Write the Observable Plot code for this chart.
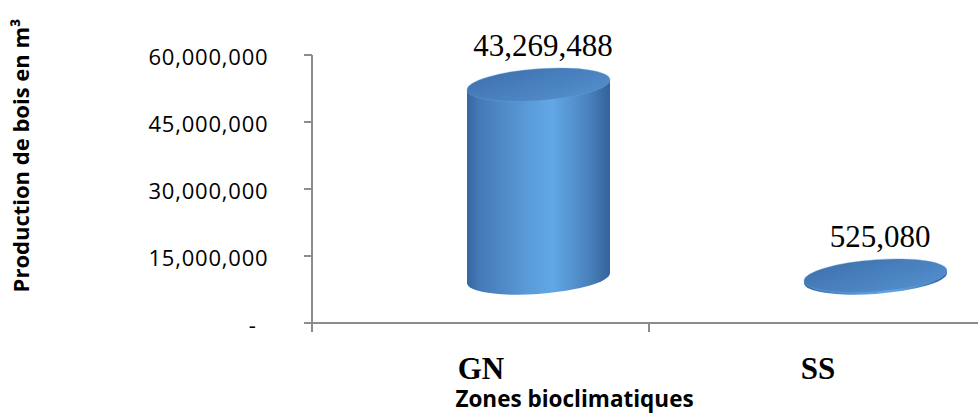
<!DOCTYPE html>
<html>
<head>
<meta charset="utf-8">
<script src="https://cdn.jsdelivr.net/npm/d3@7"></script>
<script src="https://cdn.jsdelivr.net/npm/@observablehq/plot@0.6"></script>
<style>
  html, body { margin: 0; padding: 0; background: #fff; overflow: hidden; }
  #chart svg { display: block; }
  #chart g[aria-label="y-axis tick label"] { letter-spacing: 0.8px; }
</style>
</head>
<body>
<div id="chart"></div>
<script>
// Wood production by bioclimatic zone (m³)
const zones = ["GN", "SS"];
const production = [43269488, 525080];
const yTicks = [0, 15000000, 30000000, 45000000, 60000000];
const yTitle = "Production de bois en m³";
const xTitle = "Zones bioclimatiques";

const rows = zones.map((zone, i) => ({zone, value: production[i]}));

const fmt = d3.format(",");
// accounting style: zero shown as a dash
const tickLabel = d => d === 0 ? "-\u2002" : fmt(d);

// 3D look: cylinders sit on a floor set back from the front axes
const depthX = 58, depthY = -45;
const rx = 71.5, ry = 16, skew = -4;
const axisColor = "#8c8c8c";

function bandwidthOf(x) {
  if (typeof x.bandwidth === "function") return x.bandwidth();
  if (typeof x.bandwidth === "number") return x.bandwidth;
  return 0;
}

// front axes: vertical value axis, horizontal category axis with band separators
function axes(index, {x, y}) {
  const g = d3.create("svg:g")
    .attr("stroke", axisColor)
    .attr("stroke-width", 2)
    .attr("fill", "none");
  const x0 = x(zones[0]);
  const y0 = y(0);
  g.append("line").attr("x1", x0).attr("x2", x0)
    .attr("y1", y(d3.max(yTicks))).attr("y2", y0 + 9);
  g.selectAll(".ytick").data(yTicks).join("line")
    .attr("x1", x0 - 8).attr("x2", x0)
    .attr("y1", d => y(d)).attr("y2", d => y(d));
  g.append("line").attr("x1", x0 - 8).attr("x2", 1200)
    .attr("y1", y0).attr("y2", y0);
  g.selectAll(".xtick").data(zones).join("line")
    .attr("x1", d => x(d)).attr("x2", d => x(d))
    .attr("y1", y0).attr("y2", y0 + 9);
  return g.node();
}

// cylinders drawn from the data through the x and y scales
function cylinders(index, {x, y}) {
  const g = d3.create("svg:g");
  const defs = g.append("defs");
  const body = defs.append("linearGradient").attr("id", "cyl-body")
    .attr("x1", 0).attr("x2", 1).attr("y1", 0).attr("y2", 0);
  [[0, "#35679f"], [0.08, "#4479b6"], [0.45, "#5b9dda"], [0.6, "#62a7e6"], [0.85, "#4a82bd"], [1, "#33629a"]]
    .forEach(([o, c]) => body.append("stop").attr("offset", o).attr("stop-color", c));
  const top = defs.append("linearGradient").attr("id", "cyl-top")
    .attr("x1", 0).attr("x2", 1).attr("y1", 0).attr("y2", 1);
  [[0, "#3d70ab"], [0.55, "#4a82c0"], [1, "#5590cd"]]
    .forEach(([o, c]) => top.append("stop").attr("offset", o).attr("stop-color", c));

  const bw = bandwidthOf(x);
  for (const d of rows) {
    const cx = x(d.zone) + bw / 2 + depthX;
    const yTop = y(d.value) + depthY;
    const yBot = y(0) + depthY;
    const c = g.append("g").attr("transform", `translate(${cx},0) skewY(${skew})`);
    c.append("path")
      .attr("d", `M${-rx},${yTop}L${-rx},${yBot}A${rx},${ry} 0 0 0 ${rx},${yBot}L${rx},${yTop}Z`)
      .attr("fill", "url(#cyl-body)");
    c.append("ellipse")
      .attr("cx", 0).attr("cy", yTop).attr("rx", rx).attr("ry", ry)
      .attr("fill", "url(#cyl-top)")
      .attr("stroke", "#6ea8df").attr("stroke-opacity", 0.35).attr("stroke-width", 1);
  }
  return g.node();
}

const chart = Plot.plot({
  width: 978,
  height: 414,
  marginLeft: 312,
  marginRight: 0,
  marginTop: 55,
  marginBottom: 91,
  style: {background: "#fff", color: "#000", overflow: "hidden"},
  x: {type: "band", domain: zones, range: [312, 986], padding: 0, axis: null},
  y: {domain: [0, 60000000], axis: null},
  marks: [
    axes,
    Plot.axisY({
      ticks: yTicks,
      tickFormat: tickLabel,
      tickSize: 0,
      tickPadding: 44,
      dy: 2.5,
      fontSize: 22,
      fontFamily: "Open Sans",
      fill: "#000",
      label: null
    }),
    Plot.axisX({
      tickSize: 0,
      tickPadding: 33,
      fontSize: 31,
      fontFamily: "Liberation Serif",
      fontWeight: "bold",
      fill: "#000",
      label: null
    }),
    cylinders,
    Plot.text(rows, {
      x: "zone",
      y: "value",
      text: d => fmt(d.value),
      dx: 62,
      dy: -84,
      lineAnchor: "middle",
      fontSize: 31,
      fontFamily: "Liberation Serif",
      fill: "#000"
    }),
    Plot.text([yTitle], {
      frameAnchor: "left",
      rotate: -90,
      dx: -291,
      dy: -34,
      textAnchor: "middle",
      lineAnchor: "middle",
      fontSize: 22,
      fontFamily: "Open Sans",
      fontWeight: "bold",
      fill: "#000"
    }),
    Plot.text([xTitle], {
      frameAnchor: "bottom",
      dx: -71,
      dy: 76,
      textAnchor: "middle",
      lineAnchor: "middle",
      fontSize: 22.5,
      fontFamily: "Open Sans",
      fontWeight: "bold",
      fill: "#000"
    })
  ]
});

document.getElementById("chart").append(chart);
</script>
</body>
</html>
